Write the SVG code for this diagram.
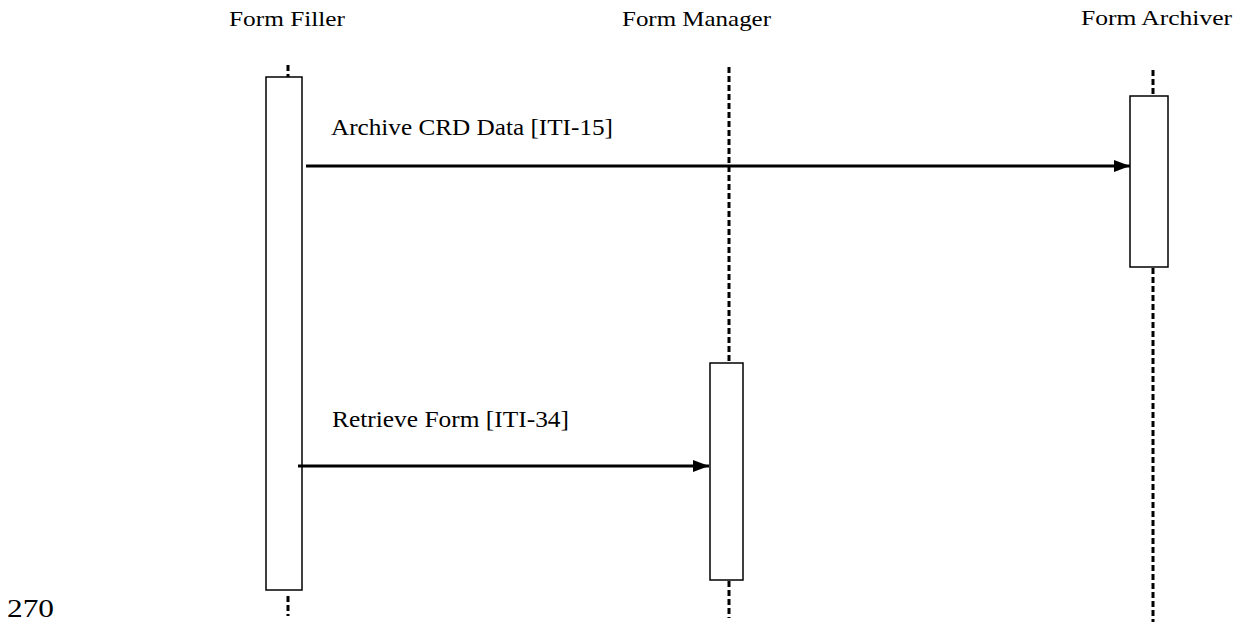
<svg xmlns="http://www.w3.org/2000/svg" width="1236" height="622" viewBox="0 0 1236 622">
  <defs>
    <style>
      .label { font-family: "Liberation Serif", "Times New Roman", Times, serif; fill: #000; }
      .head { font-size: 21px; }
      .msg { font-size: 23px; }
      .lifeline { stroke: #000; stroke-width: 3; stroke-dasharray: 6 3; fill: none; }
      .act { fill: #fff; stroke: #000; stroke-width: 1.5; }
      .call { stroke: #000; stroke-width: 3; fill: none; }
    </style>
    <marker id="arrow" viewBox="0 0 16 12" refX="16" refY="6" markerWidth="16" markerHeight="12" markerUnits="userSpaceOnUse" orient="auto">
      <path d="M0,0 L16,6 L0,12 Z" fill="#000"/>
    </marker>
  </defs>
  <rect width="1236" height="622" fill="#fff"/>

  <!-- Lifelines -->
  <g id="lifelines">
    <line class="lifeline" x1="288" y1="65" x2="288" y2="77"/>
    <line class="lifeline" x1="288" y1="596" x2="288" y2="616"/>
    <line class="lifeline" x1="729" y1="67" x2="729" y2="363"/>
    <line class="lifeline" x1="729" y1="581" x2="729" y2="618"/>
    <line class="lifeline" x1="1153" y1="70" x2="1153" y2="96"/>
    <line class="lifeline" x1="1153" y1="268" x2="1153" y2="622"/>
  </g>

  <!-- Participants -->
  <g id="form-filler">
    <text class="label head" x="229" y="26" textLength="116" lengthAdjust="spacingAndGlyphs">Form Filler</text>
    <rect class="act" x="266" y="77" width="36" height="513"/>
  </g>
  <g id="form-manager">
    <text class="label head" x="622" y="26" textLength="149" lengthAdjust="spacingAndGlyphs">Form Manager</text>
    <rect class="act" x="710" y="363" width="33" height="217"/>
  </g>
  <g id="form-archiver">
    <text class="label head" x="1081" y="25" textLength="151" lengthAdjust="spacingAndGlyphs">Form Archiver</text>
    <rect class="act" x="1130" y="96" width="38" height="171"/>
  </g>

  <!-- Messages -->
  <g id="connectors">
    <line class="call" x1="306" y1="166" x2="1130" y2="166" marker-end="url(#arrow)"/>
    <line class="call" x1="298" y1="466" x2="709" y2="466" marker-end="url(#arrow)"/>
  </g>
  <g id="message-labels">
    <text class="label msg" x="331" y="135" textLength="282" lengthAdjust="spacingAndGlyphs">Archive CRD Data [ITI-15]</text>
    <text class="label msg" x="332" y="427" textLength="237" lengthAdjust="spacingAndGlyphs">Retrieve Form [ITI-34]</text>
  </g>

  <text id="page-number" class="label" x="7" y="617" font-size="26" textLength="47" lengthAdjust="spacingAndGlyphs">270</text>
</svg>
